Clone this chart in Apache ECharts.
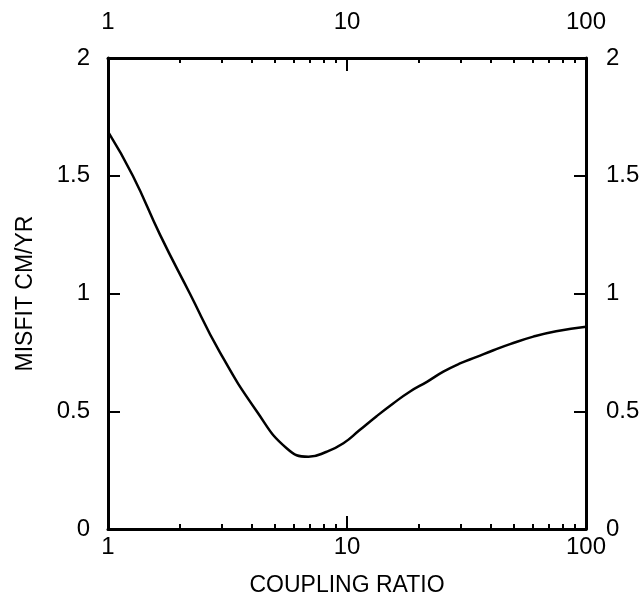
<!DOCTYPE html>
<html>
<head>
<meta charset="utf-8">
<script src="https://cdn.jsdelivr.net/npm/echarts@6/dist/echarts.min.js"></script>
<style>
html,body{margin:0;padding:0;background:#fff;}
#chart{width:641px;height:595px;}
</style>
</head>
<body>
<div id="chart"></div>
<script>
// Data
var couplingRatio = [1, 1.27, 1.65, 2.2, 2.94, 4.19, 5.59, 6.9, 8.22, 9.66, 11.3, 13.3, 15.6, 18.3, 21.6, 25.3, 29.7, 34.9, 41.0, 48.1, 60.2, 75, 100];
var misfit        = [1.687, 1.5, 1.25, 1.0, 0.75, 0.5, 0.343, 0.307, 0.328, 0.364, 0.42, 0.479, 0.533, 0.583, 0.625, 0.668, 0.703, 0.731, 0.759, 0.785, 0.817, 0.84, 0.859];

var xMajorTicks = [1, 10, 100];
var xMinorTicks = [2, 3, 4, 5, 6, 7, 8, 9, 20, 30, 40, 50, 60, 70, 80, 90];
var yTicks = [0, 0.5, 1, 1.5, 2];

var FONT = 'Liberation Sans, Arial, sans-serif';
var LBL = 24;
var NAME = 23;

var chart = echarts.init(document.getElementById('chart'), null, {renderer: 'canvas'});

function logAxis(pos, showLine, ticks, tickLen, labels, margin, extra) {
  var ax = {
    type: 'log', logBase: 10, min: 1, max: 100, position: pos, gridIndex: 0,
    axisLine: {show: showLine, onZero: false, lineStyle: {color: '#000', width: 3}},
    axisTick: {show: true, inside: true, length: tickLen, customValues: ticks, lineStyle: {color: '#000', width: 2}},
    axisLabel: labels ? {show: true, customValues: labels, margin: margin, color: '#000', fontFamily: FONT, fontSize: LBL,
      formatter: function (v) { return String(v); }} : {show: false},
    splitLine: {show: false},
    minorTick: {show: false}
  };
  if (extra) { for (var k in extra) ax[k] = extra[k]; }
  return ax;
}

function valAxis(pos, margin, extra) {
  var ax = {
    type: 'value', min: 0, max: 2, interval: 0.5, position: pos, gridIndex: 0,
    axisLine: {show: true, onZero: false, lineStyle: {color: '#000', width: 3}},
    axisTick: {show: true, inside: true, length: 12, lineStyle: {color: '#000', width: 2}},
    axisLabel: {show: true, customValues: yTicks, margin: margin, color: '#000', fontFamily: FONT, fontSize: LBL,
      padding: [0, 0, 10, 0]},
    splitLine: {show: false}
  };
  if (extra) { for (var k in extra) ax[k] = extra[k]; }
  return ax;
}

chart.setOption({
  backgroundColor: '#fff',
  animation: false,
  grid: {left: 108, right: 55, top: 58, bottom: 66, containLabel: false, outerBoundsMode: 'none'},
  xAxis: [
    logAxis('bottom', true, [10], 13, xMajorTicks, 6, {
      name: 'COUPLING RATIO', nameLocation: 'middle', nameGap: 45,
      nameTextStyle: {color: '#000', fontFamily: FONT, fontSize: NAME}
    }),
    logAxis('bottom', false, xMinorTicks, 5, null, 0),
    logAxis('top', true, [10], 13, xMajorTicks, 24),
    logAxis('top', false, xMinorTicks, 5, null, 0)
  ],
  yAxis: [
    valAxis('left', 18, {
      name: 'MISFIT CM/YR', nameLocation: 'middle', nameGap: 71, nameRotate: 90,
      nameTextStyle: {color: '#000', fontFamily: FONT, fontSize: NAME}
    }),
    valAxis('right', 20)
  ],
  series: [{
    type: 'line',
    xAxisIndex: 0, yAxisIndex: 0,
    data: couplingRatio.map(function (x, i) { return [x, misfit[i]]; }),
    smooth: 0.5,
    showSymbol: false,
    symbol: 'none',
    lineStyle: {color: '#000', width: 2.5},
    clip: true
  }]
});
</script>
</body>
</html>
